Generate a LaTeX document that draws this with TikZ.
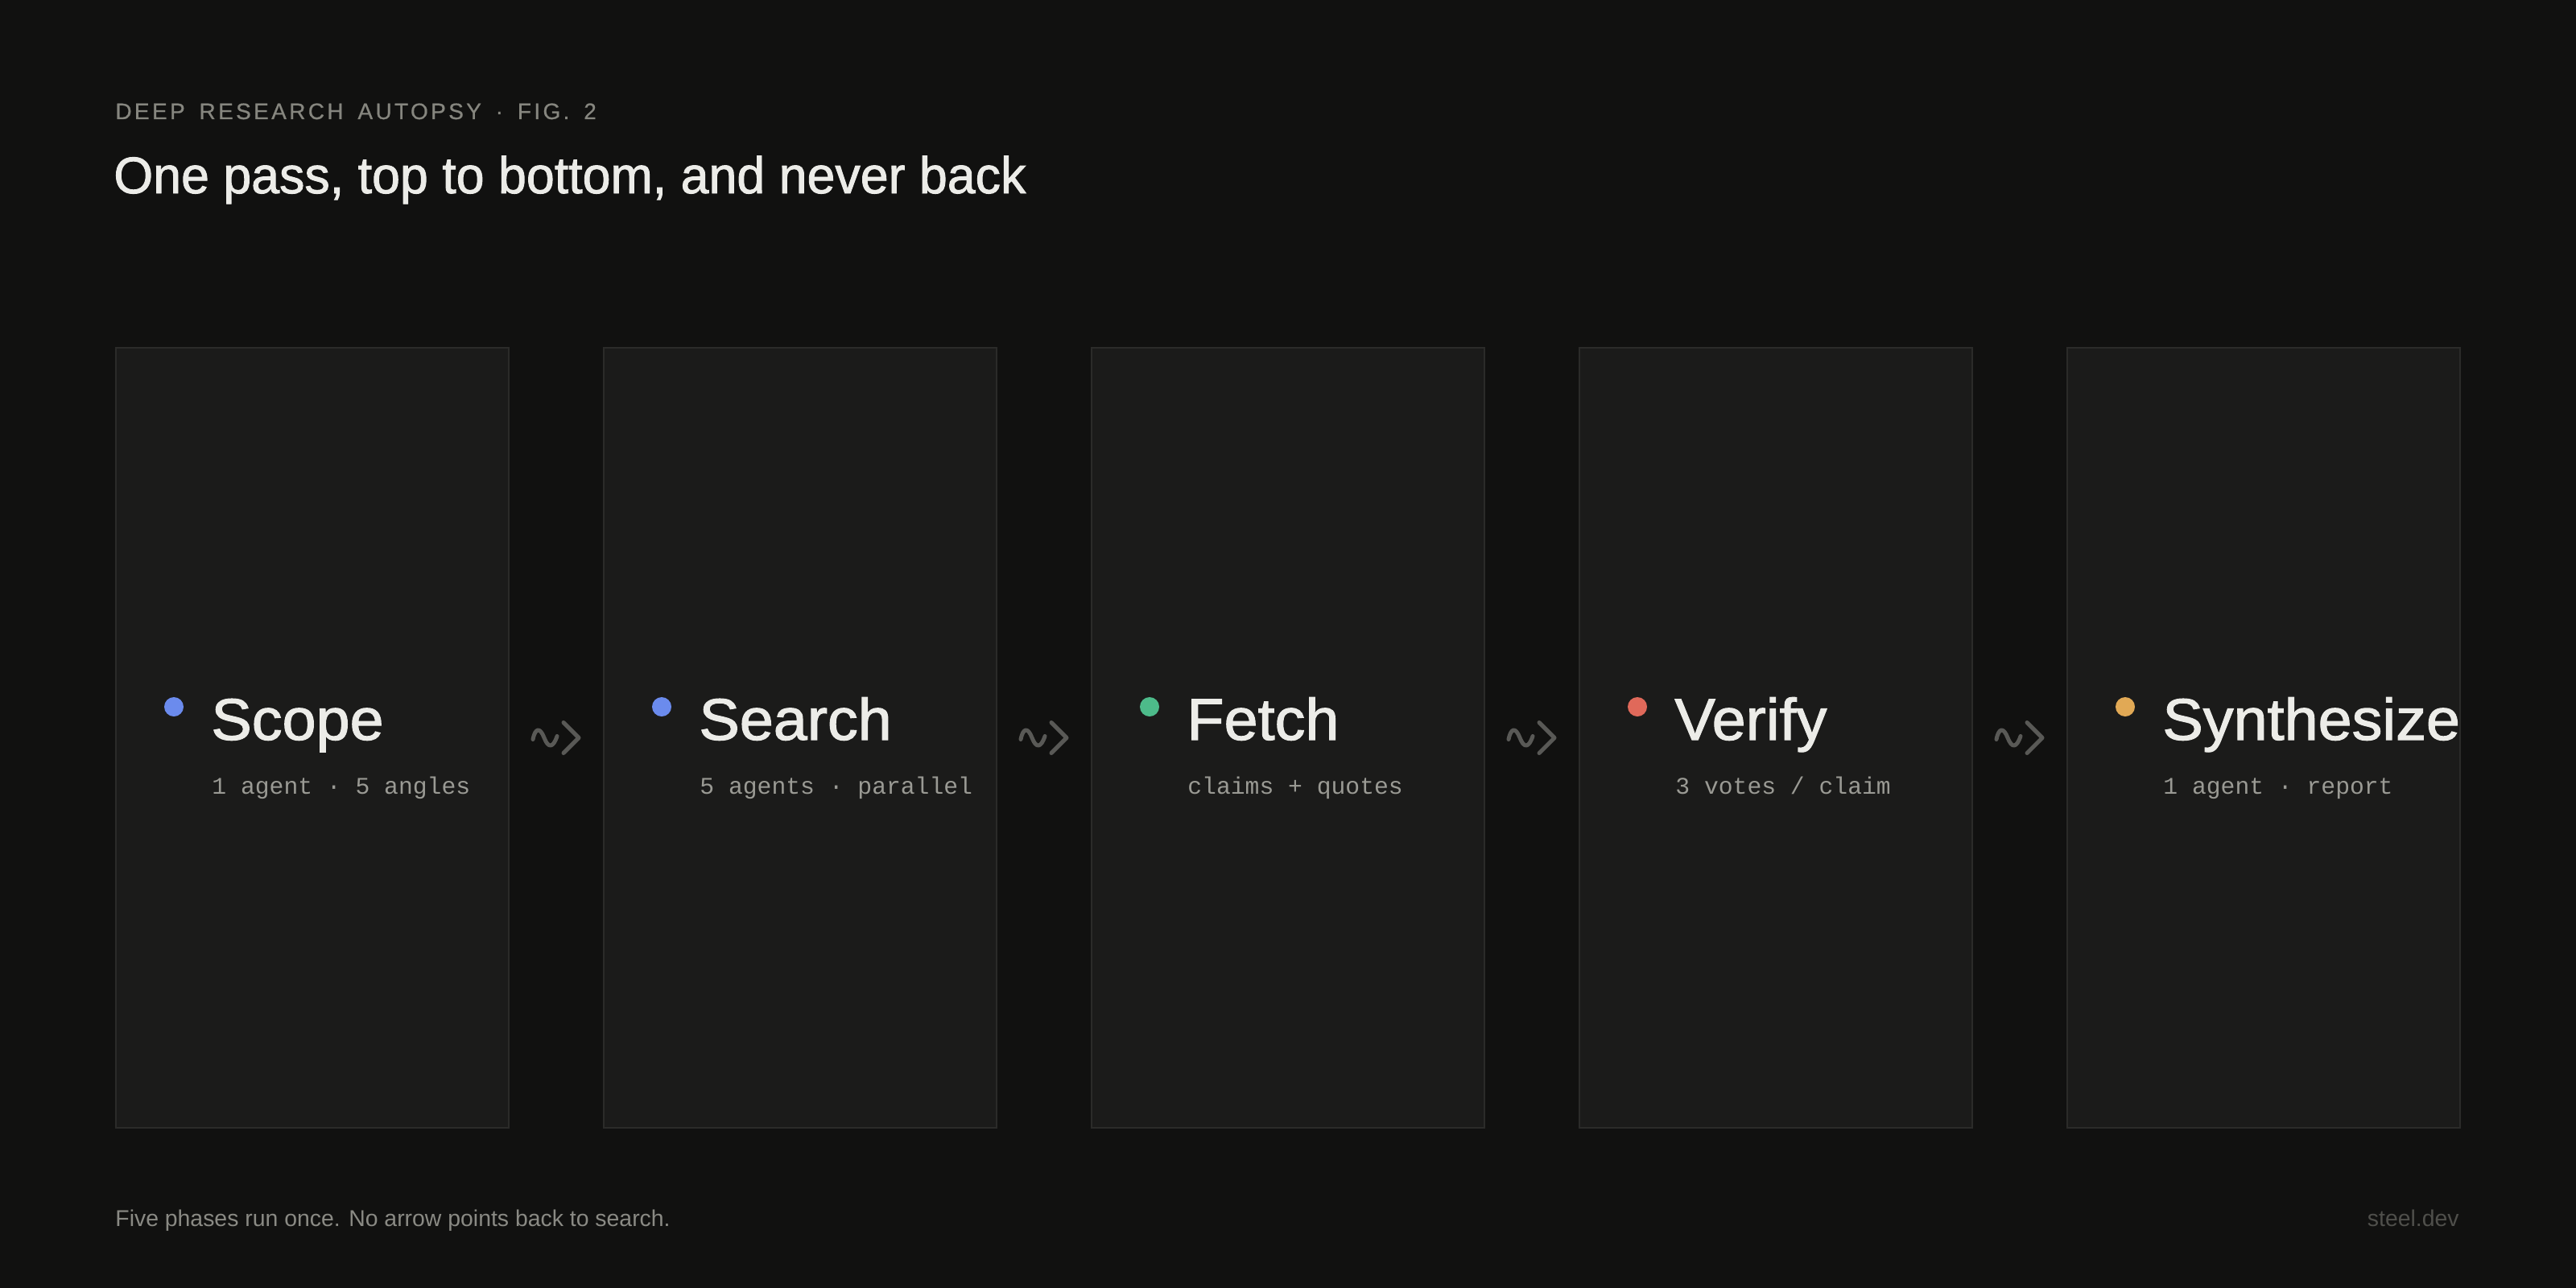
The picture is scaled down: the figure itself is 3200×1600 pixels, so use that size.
\documentclass[tikz,border=0pt]{standalone}
\usepackage{fontspec}
\usetikzlibrary{calc}
\setmainfont{Liberation Sans}
\setmonofont{Liberation Mono}
\newfontfamily\kickerfont[LetterSpace=12, WordSpace=1.6, FakeBold=0.6]{Liberation Sans}
\newfontfamily\headfont[FakeStretch=0.98, FakeBold=1.4]{Liberation Sans}
\newfontfamily\phasefont[FakeStretch=1.035, FakeBold=1.6]{Liberation Sans}
\definecolor{bgcol}{HTML}{111110}
\definecolor{boxfill}{HTML}{1B1B1A}
\definecolor{boxline}{HTML}{2B2B29}
\definecolor{titletext}{HTML}{ECECE8}
\definecolor{subtext}{HTML}{9A9A94}
\definecolor{kickertext}{HTML}{86867F}
\definecolor{footertext}{HTML}{8A8A84}
\definecolor{brandtext}{HTML}{4F4F4B}
\definecolor{markgray}{HTML}{595956}
\definecolor{dotblue}{HTML}{6B8BED}
\definecolor{dotgreen}{HTML}{4DBB8A}
\definecolor{dotred}{HTML}{E0695A}
\definecolor{dotorange}{HTML}{E1A955}
\begin{document}
\begin{tikzpicture}[x=0.5pt,y=-0.5pt,
  phasebox/.style={draw=boxline, fill=boxfill, line width=1pt, minimum width=244pt, minimum height=484.5pt, inner sep=0pt, anchor=north west},
  phasetitle/.style={anchor=base west, inner sep=0pt, text=titletext, font=\phasefont\fontsize{36.5pt}{40pt}\selectfont},
  phasesub/.style={anchor=base west, inner sep=0pt, text=subtext, font=\ttfamily\fontsize{14.85pt}{18pt}\selectfont},
  phasedot/.style={circle, inner sep=0pt, minimum size=12pt, draw=none},
  flowmark/.style={draw=markgray, line width=2.5pt, line cap=round, line join=round},
  plaintext/.style={inner sep=0pt},
]
\fill[bgcol] (0,0) rectangle (3200,1600);
\useasboundingbox (0,0) rectangle (3200,1600);

\node[plaintext, anchor=base west, text=kickertext, font=\kickerfont\fontsize{14pt}{16pt}\selectfont] (kicker) at (143,148) {DEEP RESEARCH AUTOPSY · FIG. 2};
\node[plaintext, anchor=base west, text=titletext, font=\headfont\fontsize{32pt}{38pt}\selectfont] (head) at (141,240) {One pass, top to bottom, and never back};

\foreach \i/\name/\sub/\col in {1/Scope/{1 agent · 5 angles}/dotblue, 2/Search/{5 agents · parallel}/dotblue, 3/Fetch/{claims + quotes}/dotgreen, 4/Verify/{3 votes / claim}/dotred, 5/Synthesize/{1 agent · report}/dotorange} {
  \pgfmathsetmacro\bx{143+606*(\i-1)}
  \node[phasebox] (b\i) at (\bx,431) {};
  \node[phasedot, fill=\col] (d\i) at (\bx+73,878) {};
  \begin{scope}
    \clip (b\i.north west) rectangle (b\i.south east);
    \node[phasetitle] (t\i) at (\bx+119,919) {\name};
  \end{scope}
  \node[phasesub] (s\i) at (\bx+120,986) {\sub};
}

\foreach \a/\b in {1/2,2/3,3/4,4/5} {
  \coordinate (m\a) at ($(b\a.east)!0.5!(b\b.west)$);
  \begin{scope}[shift={(m\a)}]
    \draw[flowmark] (-29,2) .. controls (-26,-13) and (-20,-13) .. (-15,0) .. controls (-10,13) and (-4,13) .. (1,-2);
    \draw[flowmark] (9,-19) -- (28,0) -- (9,19);
  \end{scope}
}

\node[plaintext, anchor=base west, text=footertext, font=\fontsize{14.2pt}{17pt}\selectfont] (foot) at (143,1523) {Five phases run once. No arrow points back to search.};
\node[plaintext, anchor=base east, text=brandtext, font=\fontsize{14.2pt}{17pt}\selectfont] (brand) at (3055,1523) {steel.dev};
\end{tikzpicture}
\end{document}
